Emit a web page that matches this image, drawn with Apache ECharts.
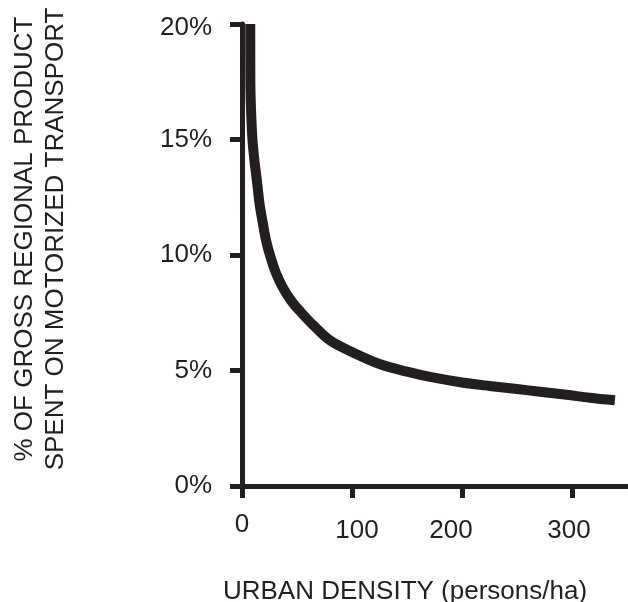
<!DOCTYPE html>
<html>
<head>
<meta charset="utf-8">
<script src="https://cdn.jsdelivr.net/npm/echarts@6/dist/echarts.min.js"></script>
<style>
html,body{margin:0;padding:0;background:#fff;}
#chart{width:628px;height:602px;}
</style>
</head>
<body>
<div id="chart"></div>
<script>
var density = [7.5, 7.6, 8.2, 9.5, 11.5, 13.6, 16, 18.5, 22, 26, 31, 37, 45, 54, 65, 80, 100, 125, 150, 171, 200, 225, 250, 271, 295, 316, 339];
var share   = [20.0, 17.5, 16.3, 15.0, 14.0, 13.2, 12.2, 11.5, 10.6, 9.9, 9.2, 8.6, 8.0, 7.5, 6.95, 6.3, 5.8, 5.28, 4.95, 4.72, 4.48, 4.33, 4.2, 4.08, 3.95, 3.82, 3.71];
var xTicks = [0, 100, 200, 300];
var yTicks = [0, 5, 10, 15, 20];
var xName = 'URBAN DENSITY (persons/ha)';
var yName = '% OF GROSS REGIONAL PRODUCT\nSPENT ON MOTORIZED TRANSPORT';

var ink = '#231f20';
var font = "'Liberation Sans', Arial, sans-serif";
var points = density.map(function (d, i) { return [d, share[i]]; });

var chart = echarts.init(document.getElementById('chart'));
chart.setOption({
  animation: false,
  backgroundColor: '#fff',
  grid: { left: 242, right: 1, top: 24, bottom: 116, containLabel: false, outerBoundsMode: 'none' },
  xAxis: {
    type: 'value', min: 0, max: 350,
    name: xName, nameLocation: 'middle', nameGap: 93,
    nameTextStyle: { color: ink, fontSize: 26, fontFamily: font, padding: [0, 59, 0, 0] },
    axisLine: { show: true, onZero: false, lineStyle: { color: ink, width: 5 } },
    axisTick: { show: true, length: 12, customValues: xTicks, lineStyle: { color: ink, width: 5 } },
    axisLabel: {
      customValues: xTicks, margin: 26, color: ink, fontSize: 26, fontFamily: font,
      formatter: function (v) { return v === 0 ? '{z|0}' : '{c' + v + '|' + v + '}'; },
      rich: {
        z: { fontSize: 26, fontFamily: font, color: ink },
        c100: { fontSize: 26, fontFamily: font, color: ink, padding: [6, 0, 0, 10] },
        c200: { fontSize: 26, fontFamily: font, color: ink, padding: [6, 22, 0, 0] },
        c300: { fontSize: 26, fontFamily: font, color: ink, padding: [6, 6, 0, 0] }
      }
    },
    splitLine: { show: false }
  },
  yAxis: {
    type: 'value', min: 0, max: 20, interval: 5,
    name: yName, nameLocation: 'middle', nameRotate: 90, nameGap: 171,
    nameTextStyle: { color: ink, fontSize: 26, lineHeight: 31, fontFamily: font, padding: [0, 0, 0, 32] },
    axisLine: { show: true, lineStyle: { color: ink, width: 5 } },
    axisTick: { show: true, length: 12, lineStyle: { color: ink, width: 5 } },
    axisLabel: {
      customValues: yTicks, margin: 30, color: ink, fontSize: 26, fontFamily: font,
      formatter: function (v) { return v === 20 ? '{t|' + v + '%}' : v + '%'; },
      rich: { t: { fontSize: 26, fontFamily: font, color: ink, padding: [8, 0, 0, 0] } }
    },
    splitLine: { show: false }
  },
  series: [{
    type: 'line',
    data: points,
    smooth: 0.35,
    showSymbol: false,
    clip: true,
    lineStyle: { color: ink, width: 10, cap: 'butt', join: 'round' }
  }]
});
</script>
</body>
</html>
